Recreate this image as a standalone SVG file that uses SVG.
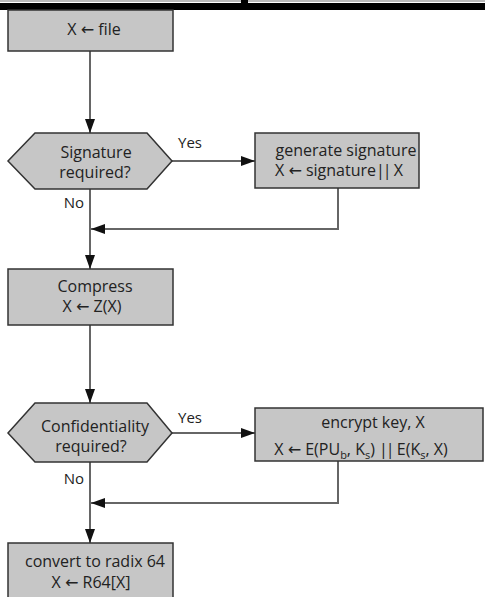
<svg xmlns="http://www.w3.org/2000/svg" width="485" height="597" viewBox="0 0 485 597">
<style>
.box{fill:#c6c6c6;stroke:#333;stroke-width:1.5}
.t{font-family:"Open Sans","Liberation Sans",sans-serif;font-size:16px;fill:#222;text-anchor:middle}
.lbl{font-family:"Open Sans","Liberation Sans",sans-serif;font-size:15px;fill:#222;text-anchor:middle}
.c{fill:none;stroke:#666;stroke-width:2}
.sub{font-size:11px}
.ar{font-family:"DejaVu Sans",sans-serif}
.bar{letter-spacing:-2px}
</style>
<defs>
<marker id="ah" markerUnits="userSpaceOnUse" markerWidth="15" markerHeight="11" refX="14" refY="5" orient="auto">
<path d="M0,0 L14,5 L0,10 z" fill="#111"/>
</marker>
</defs>
<rect x="0" y="0" width="485" height="2" fill="#bbb"/>
<rect x="0" y="3" width="485" height="7" fill="#000"/>
<rect x="241" y="0" width="7" height="4" fill="#000"/>
<g id="connectors">
<path class="c" d="M90,51 V133" marker-end="url(#ah)"/>
<path class="c" d="M172,161 H255" marker-end="url(#ah)"/>
<path class="c" d="M90,189 V269" marker-end="url(#ah)"/>
<path class="c" d="M338,188 V229 H91" marker-end="url(#ah)"/>
<path class="c" d="M90,325 V403" marker-end="url(#ah)"/>
<path class="c" d="M172,433 H255" marker-end="url(#ah)"/>
<path class="c" d="M90,462 V543" marker-end="url(#ah)"/>
<path class="c" d="M338,461 V503 H91" marker-end="url(#ah)"/>
<text class="lbl" x="190" y="148">Yes</text>
<text class="lbl" x="74" y="208">No</text>
<text class="lbl" x="190" y="423">Yes</text>
<text class="lbl" x="74" y="484">No</text>
</g>
<g id="start">
<rect class="box" x="8" y="10" width="165" height="41"/>
<text class="t" x="94" y="35">X <tspan class="ar">←</tspan> file</text>
</g>
<g id="sigq">
<polygon class="box" points="8,161 35,133 147,133 172,161 147,189 35,189"/>
<text class="t" x="96" y="158">Signature</text>
<text class="t" x="95" y="178">required?</text>
</g>
<g id="gensig">
<rect class="box" x="255" y="133" width="164" height="55"/>
<text class="t" x="346" y="156">generate signature</text>
<text class="t" x="339" y="176">X <tspan class="ar">←</tspan> signature<tspan class="bar">||</tspan> X</text>
</g>
<g id="compress">
<rect class="box" x="8" y="269" width="165" height="56"/>
<text class="t" x="95" y="292">Compress</text>
<text class="t" x="92" y="312">X <tspan class="ar">←</tspan> Z(X)</text>
</g>
<g id="confq">
<polygon class="box" points="8,433 35,403 147,403 172,433 147,462 35,462"/>
<text class="t" x="95" y="432">Confidentiality</text>
<text class="t" x="91" y="452">required?</text>
</g>
<g id="encrypt">
<rect class="box" x="255" y="408" width="228" height="53"/>
<text class="t" x="373" y="428">encrypt key, X</text>
<text class="t" x="361" y="455">X <tspan class="ar">←</tspan> E(PU<tspan class="sub" dy="4">b</tspan><tspan dy="-4">, K</tspan><tspan class="sub" dy="4">s</tspan><tspan dy="-4">) </tspan><tspan class="bar">||</tspan> E(K<tspan class="sub" dy="4">s</tspan><tspan dy="-4">, X)</tspan></text>
</g>
<g id="radix">
<rect class="box" x="8" y="543" width="165" height="60"/>
<text class="t" x="95" y="567">convert to radix 64</text>
<text class="t" x="91" y="588">X <tspan class="ar">←</tspan> R64[X]</text>
</g>
</svg>
